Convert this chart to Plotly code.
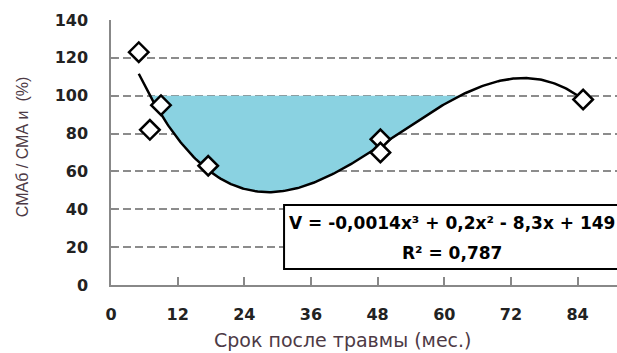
import numpy as np
import plotly.graph_objects as go

# Data (months after injury, ratio %)
months = [5, 7, 9, 17.5, 48.5, 48.5, 85]
ratio = [123, 82, 95, 63, 77, 70, 98]
x_ticks = [0, 12, 24, 36, 48, 60, 72, 84]
y_ticks = [0, 20, 40, 60, 80, 100, 120, 140]
eq_text = "V = -0,0014x³ + 0,2x² - 8,3x + 149"
r2_text = "R² = 0,787"
ref_level = 100

# Cubic trendline fitted to the data (as in the original spreadsheet trendline)
coef = np.polyfit(months, ratio, 3)
xs = np.linspace(min(months), max(months), 300)
ys = np.polyval(coef, xs)

# Shaded region between reference level and trend where trend < level
roots = np.roots(coef - np.array([0, 0, 0, ref_level]))
roots = np.sort([r.real for r in roots if abs(r.imag) < 1e-9 and min(months) <= r.real <= max(months)])
r1, r2 = roots[0], roots[1]
xf = np.linspace(r1, r2, 200)
yf = np.polyval(coef, xf)
fill_x = list(xf) + list(xf[::-1])
fill_y = list(yf) + [ref_level] * len(xf)

fig = go.Figure()
fig.add_trace(go.Scatter(x=fill_x, y=fill_y, fill="toself", fillcolor="#8AD2E1",
                         line=dict(width=0), mode="lines", hoverinfo="skip", showlegend=False))
fig.add_trace(go.Scatter(x=xs, y=ys, mode="lines", line=dict(color="black", width=2.5),
                         showlegend=False))
fig.add_trace(go.Scatter(x=months, y=ratio, mode="markers",
                         marker=dict(symbol="diamond", size=15, color="white",
                                     line=dict(color="black", width=2.5)),
                         showlegend=False))

tickfont = dict(family="DejaVu Sans", size=16, color="#222222", weight="bold")
fig.update_xaxes(range=[0, 91.1], tickvals=x_ticks, ticktext=[str(v) for v in x_ticks],
                 ticks="inside", ticklen=8, tickwidth=1.5, tickcolor="#888888",
                 showline=True, linecolor="#888888", linewidth=1.5, automargin=False,
                 showgrid=False, zeroline=False, tickfont=tickfont, ticklabelstandoff=14)
fig.update_yaxes(range=[0, 140], tickvals=y_ticks, ticktext=[str(v) for v in y_ticks],
                 ticks="inside", ticklen=6, tickwidth=1.5, tickcolor="#888888",
                 showline=True, linecolor="#888888", linewidth=1.5, automargin=False,
                 showgrid=True, gridcolor="#8c8c8c", gridwidth=2, griddash="8px,4px",
                 zeroline=False, tickfont=tickfont, ticklabelstandoff=18)

fig.add_shape(type="rect", xref="paper", yref="y", x0=0.342, x1=1.02, y0=8.5, y1=42.3,
              fillcolor="white", line=dict(color="black", width=2), layer="above")
boxfont = dict(family="DejaVu Sans", size=17, color="black", weight="bold")
fig.add_annotation(xref="paper", yref="y", x=0.674, y=32.7, text=eq_text,
                   showarrow=False, font=boxfont, xanchor="center", yanchor="middle")
fig.add_annotation(xref="paper", yref="y", x=0.674, y=16.9, text=r2_text,
                   showarrow=False, font=boxfont, xanchor="center", yanchor="middle")

fig.add_annotation(xref="paper", yref="paper", x=0.4585, y=-0.207, text="Срок после травмы (мес.)",
                   showarrow=False, font=dict(family="DejaVu Sans", size=19, color="#4d3a45"),
                   xanchor="center", yanchor="middle")
fig.add_annotation(xref="paper", yref="paper", x=-0.176, y=0.52, text="СМАб / СМА и  (%)",
                   showarrow=False, font=dict(family="Liberation Sans", size=16, color="#4d3a45"),
                   textangle=-90, xanchor="center", yanchor="middle")

fig.update_layout(width=617, height=353, margin=dict(l=111, r=0, t=20, b=68),
                  paper_bgcolor="white", plot_bgcolor="white", showlegend=False)
fig.write_html("out.html", config={"displayModeBar": False},
               post_script="document.body.style.margin='0';document.body.style.overflow='hidden';")
